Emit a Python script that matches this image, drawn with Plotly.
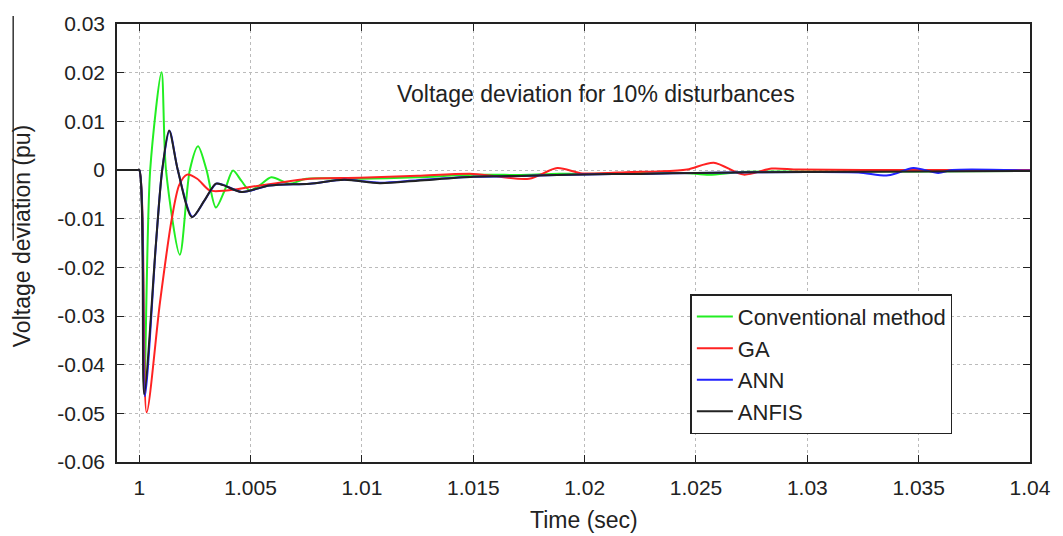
import plotly.graph_objects as go

# ---------------- data ----------------
t_conv = [0.999, 0.9999, 1.0, 1.00022, 1.00049, 1.001, 1.0012, 1.00182, 1.00227, 1.00264, 1.00302,
          1.00344, 1.00385, 1.00421, 1.00458, 1.00496, 1.00545, 1.00593, 1.00675, 1.0075,
          1.0099, 1.0125, 1.015, 1.0175, 1.0185, 1.02, 1.0225, 1.0245, 1.0256, 1.027,
          1.03, 1.035, 1.04]
v_conv = [0.0, 0.0, 0.0, -0.045, 0.0, 0.0201, 0.0, -0.0174, 0.0, 0.0049, 0.0,
          -0.0077, -0.004, -0.0001, -0.0022, -0.0042, -0.003, -0.0015, -0.0028, -0.0018,
          -0.0018, -0.0015, -0.001, -0.001, -0.0008, -0.0008, -0.0006, -0.0006, -0.001, -0.0004,
          -0.0003, -0.0003, -0.0002]

t_ga = [0.999, 0.9999, 1.0, 1.00033, 1.00093, 1.00145, 1.0018, 1.00215, 1.0026, 1.00317, 1.00392,
        1.00496, 1.00616, 1.00765, 1.0099, 1.0125, 1.015, 1.0175, 1.01877, 1.0199, 1.0221,
        1.0233, 1.0246, 1.0258, 1.02714, 1.0284, 1.0296, 1.035, 1.04]
v_ga = [0.0, 0.0, 0.0, -0.0498, -0.0272, -0.0103, -0.003, -0.00095, -0.0018, -0.0042, -0.0042,
        -0.0035, -0.0027, -0.0018, -0.0016, -0.0012, -0.0008, -0.0018, 0.0004, -0.0007, -0.0004,
        -0.0003, 0.0001, 0.0015, -0.00095, 0.0003, 0.0001, 0.0, 0.0]

t_ann = [0.999, 0.9999, 1.0, 1.00025, 1.00075, 1.00103, 1.00136, 1.00173, 1.00239, 1.00294, 1.00346,
         1.00379, 1.00461, 1.00586, 1.00765, 1.0092, 1.0108, 1.0125, 1.015, 1.0175, 1.02,
         1.0225, 1.025, 1.03, 1.0323, 1.03364, 1.03476, 1.03588, 1.0365, 1.04]
v_ann = [0.0, 0.0, 0.0, -0.0465, -0.0152, 0.0, 0.008, 0.0, -0.0096, -0.0062, -0.0028,
         -0.0031, -0.0045, -0.0032, -0.0028, -0.002, -0.0026, -0.0021, -0.0014, -0.0012, -0.0009,
         -0.0008, -0.0006, -0.0004, -0.0005, -0.0011, 0.0004, -0.0006, 0.0, -0.0001]

t_anfis = [0.999, 0.9999, 1.0, 1.00022, 1.00075, 1.00103, 1.00134, 1.00173, 1.00237, 1.00292, 1.00344,
           1.00377, 1.00459, 1.00586, 1.00765, 1.0092, 1.0108, 1.0125, 1.015, 1.0175, 1.02,
           1.0225, 1.025, 1.03, 1.035, 1.04]
v_anfis = [0.0, 0.0, 0.0, -0.0461, -0.015, 0.0, 0.0081, 0.0, -0.0097, -0.0063, -0.0028,
           -0.0031, -0.0045, -0.0032, -0.0028, -0.002, -0.0027, -0.0022, -0.0014, -0.0012, -0.0009,
           -0.0008, -0.0006, -0.0004, -0.0003, -0.0002]

series_names = ["Conventional method", "GA", "ANN", "ANFIS"]
series_colors = ["#22ee22", "#ff2222", "#2222ff", "#222222"]

x_ticks = [1.0, 1.005, 1.01, 1.015, 1.02, 1.025, 1.03, 1.035, 1.04]
x_ticktext = ["1", "1.005", "1.01", "1.015", "1.02", "1.025", "1.03", "1.035", "1.04"]
y_ticks = [0.03, 0.02, 0.01, 0.0, -0.01, -0.02, -0.03, -0.04, -0.05, -0.06]
y_ticktext = ["0.03", "0.02", "0.01", "0", "-0.01", "-0.02", "-0.03", "-0.04", "-0.05", "-0.06"]

# ---------------- figure ----------------
FONT = "Liberation Sans, Arial, sans-serif"
fig = go.Figure()
for t, v, name, col in zip([t_conv, t_ga, t_ann, t_anfis],
                           [v_conv, v_ga, v_ann, v_anfis],
                           series_names, series_colors):
    fig.add_trace(go.Scatter(x=t, y=v, mode="lines", name=name,
                             line=dict(color=col, width=2, shape="spline", smoothing=0.8)))

axis_common = dict(showline=True, linecolor="#222222", linewidth=1.5, mirror="ticks",
                   ticks="inside", ticklen=7, tickcolor="#222222",
                   showgrid=True, gridcolor="#bbbbbb", griddash="dot", gridwidth=1,
                   zeroline=False, tickfont=dict(family=FONT, size=21, color="#222222"),
                   ticklabelstandoff=6)

fig.update_xaxes(range=[0.999, 1.04], tickvals=x_ticks, ticktext=x_ticktext, **axis_common)
fig.update_yaxes(range=[-0.06, 0.03], tickvals=y_ticks, ticktext=y_ticktext, **axis_common)

fig.update_layout(
    width=1063, height=536,
    margin=dict(l=117, r=31, t=16, b=74),
    paper_bgcolor="white", plot_bgcolor="white",
    font=dict(family=FONT, color="#222222"),
    showlegend=True,
    legend=dict(x=0.628, y=0.383, xanchor="left", yanchor="top",
                bgcolor="white", bordercolor="#222222", borderwidth=1.5,
                font=dict(family=FONT, size=22, color="#222222"),
                itemwidth=36, tracegroupgap=0),
    annotations=[
        dict(text="Voltage deviation for 10% disturbances", xref="paper", yref="paper",
             x=0.5246, y=0.840, showarrow=False, xanchor="center", yanchor="middle",
             font=dict(family=FONT, size=23, color="#222222")),
        dict(text="Time (sec)", xref="paper", yref="paper",
             x=0.5115, y=-0.1329, showarrow=False, xanchor="center", yanchor="middle",
             font=dict(family=FONT, size=23, color="#222222")),
        dict(text="Voltage deviation (pu)", xref="paper", yref="paper",
             x=-0.1038, y=0.516, showarrow=False, xanchor="center", yanchor="middle",
             textangle=-90, font=dict(family=FONT, size=23, color="#222222")),
    ],
    shapes=[dict(type="line", xref="paper", yref="paper", x0=-0.1137, x1=-0.1137,
                 y0=1.018, y1=0.505, line=dict(color="#333333", width=1.5))],
)

fig.write_html("out.html", config={"displayModeBar": False},
               post_script="document.body.style.margin='0px';document.body.style.overflow='hidden';")
